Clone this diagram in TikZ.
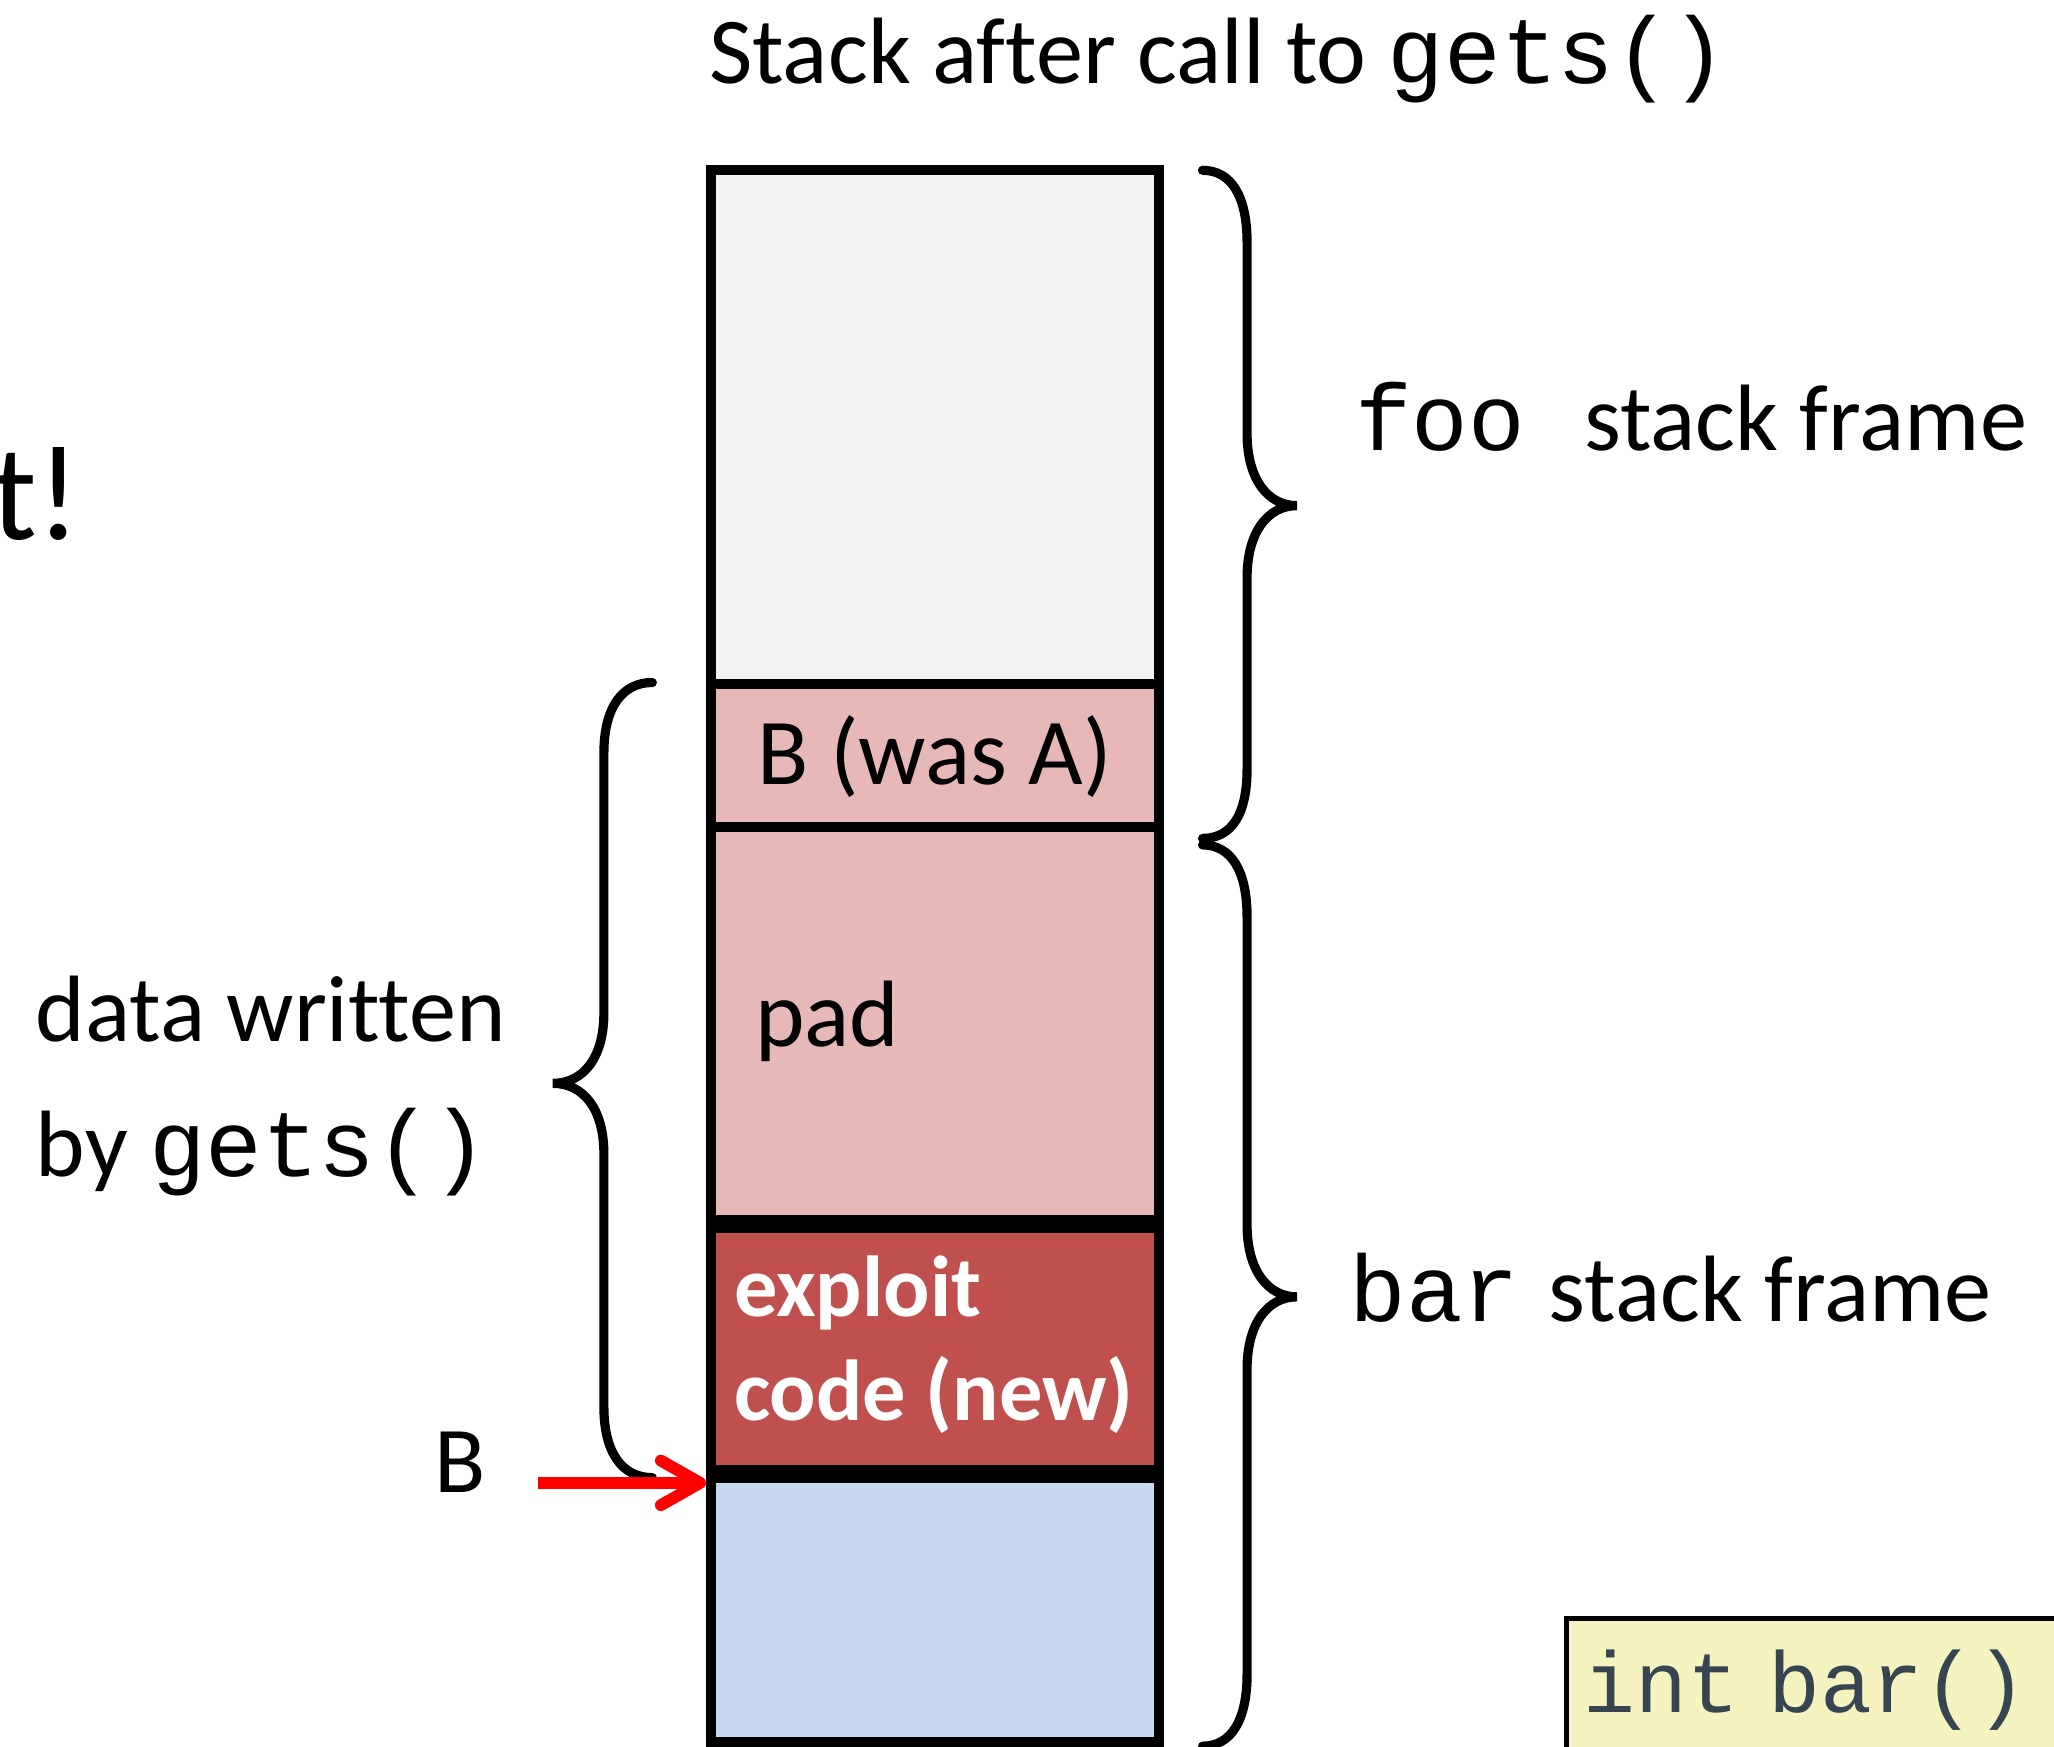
\documentclass[tikz,border=0pt]{standalone}
\usepackage{fontspec}
\setmainfont{Carlito}[Ligatures=CommonOff]
\newfontfamily\mono{Liberation Mono}
\usetikzlibrary{arrows.meta}
\definecolor{cgray}{HTML}{F2F2F2}
\definecolor{cpink}{HTML}{E6B9B8}
\definecolor{cred}{HTML}{C0504D}
\definecolor{cblue}{HTML}{C6D9F1}
\definecolor{cyel}{HTML}{F5F4C0}
\definecolor{ccode}{HTML}{36454F}
\begin{document}
\begin{tikzpicture}[x=0.5pt,y=-0.5pt,
  txt/.style={inner sep=0pt, anchor=base west, font=\fontsize{36}{43}\selectfont},
  cell/.style={rectangle, inner sep=0pt, minimum width=170.5pt, anchor=north west, draw=none},
  border/.style={line width=3.8pt},
  thickdiv/.style={line width=7pt},
  brace/.style={line width=3.5pt, line cap=round},
  redarrow/.style={draw=red, line width=4.5pt, -{Straight Barb[length=15pt,width=17pt,round]}},
  codebox/.style={draw=black, line width=2pt, fill=cyel, anchor=north west, inner xsep=6.5pt, inner ysep=0pt,
     text height=35.75pt, text depth=40pt, text width=200pt, align=left, text=ccode,
     font=\fontsize{33}{39}\selectfont\mono},
  exploittxt/.style={txt, text=white, font=\fontsize{33}{40}\selectfont\bfseries}]
\useasboundingbox (0,0) rectangle (1568,1333);

% stack cells
\node[cell, fill=cgray, minimum height=195.5pt] (c1) at (543,130) {};
\node[cell, fill=cpink, minimum height=54.5pt] (c2) at (c1.south west) {};
\node[cell, fill=cpink, minimum height=151pt] (c3) at (c2.south west) {};
\node[cell, fill=cred, minimum height=95pt] (c4) at (c3.south west) {};
\node[cell, fill=cblue, minimum height=102pt] (c5) at (c4.south west) {};

\draw[border] (c1.south west) -- (c1.south east);
\draw[border] (c2.south west) -- (c2.south east);
\draw[thickdiv] (c3.south west) -- (c3.south east);
\draw[thickdiv] (c4.south west) -- (c4.south east);
\draw[border] (c1.north west) rectangle (c5.south east);

% cell texts
\node[txt, anchor=base] (bwas) at (713.5,599) {B (was A)};
\node[txt] (pad) at (576,799) {pad};
\node[exploittxt] (ex1) at (560,1005) {exploit};
\node[exploittxt] (ex2) at (560,1084) {code (new)};

% title
\node[txt] (title) at (541,64) {Stack after call to {\mono gets()}};

% cut-off text
\node[txt, font=\fontsize{52}{60}\selectfont] (cut) at (-7,412) {t!};

% frame labels
\node[txt] (foo) at (1034,344) {{\mono foo}\hspace{22.7pt}stack frame};
\node[txt] (bar) at (1030,1009) {{\mono bar}\hspace{11.2pt}stack frame};

% data written
\node[txt] (dw1) at (27,795) {data written};
\node[txt] (dw2) at (27,898) {by {\mono gets()}};

% braces
\draw[brace] (918,130) .. controls (940,130) and (952,150) .. (952,185) -- (952,331)
  .. controls (952,366) and (968,386) .. (990,386)
  .. controls (968,386) and (952,406) .. (952,441) -- (952,587)
  .. controls (952,622) and (940,640) .. (918,640);
\draw[brace] (918,645) .. controls (940,645) and (952,665) .. (952,700) -- (952,935)
  .. controls (952,970) and (968,990) .. (990,990)
  .. controls (968,990) and (952,1010) .. (952,1045) -- (952,1278)
  .. controls (952,1313) and (940,1333) .. (918,1333);
\draw[brace] (498,521) .. controls (475,521) and (461,540) .. (461,575) -- (461,773)
  .. controls (461,808) and (445,827) .. (422,827)
  .. controls (445,827) and (461,846) .. (461,881) -- (461,1074)
  .. controls (461,1109) and (475,1128) .. (498,1128);

% B pointer
\node[txt] (blab) at (331,1139) {B};
\coordinate (arrS) at (411,1132);
\coordinate (arrE) at (539,1132);
\draw[redarrow] (arrS) -- (arrE);

% code box
\node[codebox] (codebar) at (1194,1233.5) {int bar()};
\end{tikzpicture}
\end{document}
